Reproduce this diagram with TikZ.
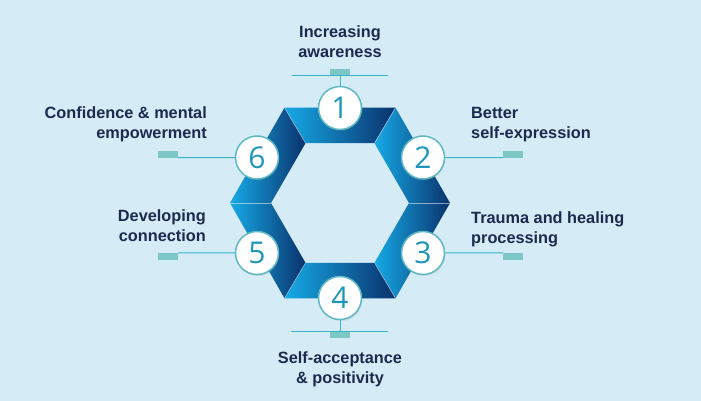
\documentclass[tikz,border=0pt]{standalone}
\usepackage{fontspec}
\setmainfont{Liberation Sans}
\newfontfamily\numfont{Open Sans}
\usetikzlibrary{shadows}
\definecolor{bg}{RGB}{213,235,245}
\definecolor{hexlight}{RGB}{22,170,230}
\definecolor{hexdark}{RGB}{10,50,108}
\definecolor{txt}{RGB}{27,42,78}
\definecolor{ring}{RGB}{95,185,195}
\definecolor{numc}{RGB}{30,150,188}
\definecolor{conncol}{RGB}{55,180,200}
\definecolor{mint}{RGB}{125,200,196}
\begin{document}
\begin{tikzpicture}[x=1pt,y=-1pt,
  seg/.style={left color=hexlight,right color=hexdark},
  sepline/.style={draw=white,draw opacity=0.5,line width=0.6pt},
  numcirc/.style={circle,draw=ring,line width=1.5pt,fill=white,minimum size=43pt,inner sep=0pt,
    font=\numfont\fontsize{30}{30}\selectfont,text=numc,
    drop shadow={opacity=0.15,shadow xshift=1pt,shadow yshift=-1.5pt}},
  lbl/.style={font=\bfseries\fontsize{16.3}{20}\selectfont,text=txt,inner sep=0pt},
  tag/.style={fill=mint,minimum width=20pt,minimum height=7pt,inner sep=0pt},
  connline/.style={draw=conncol,line width=1pt}]
\useasboundingbox (0,0) rectangle (701,401);
\fill[bg] (0,0) rectangle (701,401);
% hexagon vertices
\coordinate (O0) at (284.5,107.7);
\coordinate (O1) at (395.5,107.7);
\coordinate (O2) at (450,203);
\coordinate (O3) at (395.5,298.3);
\coordinate (O4) at (284.5,298.3);
\coordinate (O5) at (230,203);
\coordinate (I0) at (305.5,143.2);
\coordinate (I1) at (374.5,143.2);
\coordinate (I2) at (409,203);
\coordinate (I3) at (374.5,262.8);
\coordinate (I4) at (305.5,262.8);
\coordinate (I5) at (271,203);
% segments
\shade[seg] (O0) -- (O1) -- (I1) -- (I0) -- cycle;
\shade[seg] (O1) -- (O2) -- (I2) -- (I1) -- cycle;
\shade[seg] (O2) -- (O3) -- (I3) -- (I2) -- cycle;
\shade[seg] (O3) -- (O4) -- (I4) -- (I3) -- cycle;
\shade[seg] (O4) -- (O5) -- (I5) -- (I4) -- cycle;
\shade[seg] (O5) -- (O0) -- (I0) -- (I5) -- cycle;
\draw[sepline] (O0) -- (I0);
\draw[sepline] (O1) -- (I1);
\draw[sepline] (O2) -- (I2);
\draw[sepline] (O3) -- (I3);
\draw[sepline] (O4) -- (I4);
\draw[sepline] (O5) -- (I5);
% tags and bars
\node[tag] (t1) at (340,72.5) {};
\coordinate (b1a) at (292,76);
\coordinate (b1b) at (388,76);
\node[tag] (t4) at (340,334.5) {};
\coordinate (b4a) at (291,331);
\coordinate (b4b) at (388,331);
\node[tag] (t2) at (513,154) {};
\node[tag] (t3) at (513,256.5) {};
\node[tag] (t6) at (168,154) {};
\node[tag] (t5) at (168,256.5) {};
\draw[connline] (b1a) -- (b1b);
\draw[connline] (b4a) -- (b4b);
% circles
\node[numcirc] (c1) at (340,108) {1};
\node[numcirc] (c2) at (423,157.5) {2};
\node[numcirc] (c3) at (423,253) {3};
\node[numcirc] (c4) at (340,298) {4};
\node[numcirc] (c5) at (257,253) {5};
\node[numcirc] (c6) at (257,157.5) {6};
% connectors
\draw[connline] (c1.north) -- (c1.north |- t1.south);
\draw[connline] (c4.south) -- (c4.south |- t4.north);
\draw[connline] (c2.east) -- (t2.south west);
\draw[connline] (c3.east) -- (t3.north west);
\draw[connline] (c6.west) -- (t6.south east);
\draw[connline] (c5.west) -- (t5.north east);
% labels
\node[lbl,anchor=north,align=center] (l1) at (340,25.3) {Increasing\\awareness};
\node[lbl,anchor=north west,align=left] (l2) at (471,107.3) {Better\\self-expression};
\node[lbl,anchor=north west,align=left] (l3) at (471,211.3) {Trauma and healing\\processing};
\node[lbl,anchor=north,align=center] (l4) at (340,351) {Self-acceptance\\\& positivity};
\node[lbl,anchor=north east,align=right] (l5) at (206,209) {Developing\\connection};
\node[lbl,anchor=north east,align=right] (l6) at (207,106) {Confidence \& mental\\empowerment};
\end{tikzpicture}
\end{document}
